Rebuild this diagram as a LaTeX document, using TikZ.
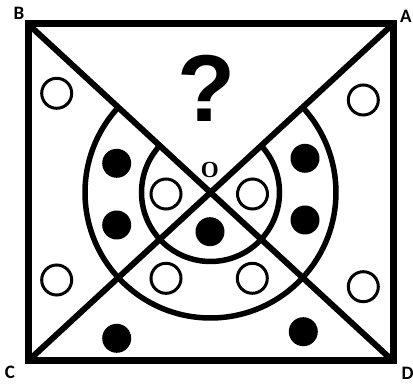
\documentclass[tikz,border=0pt]{standalone}
\usepackage{fontspec}
\setmainfont{Liberation Sans}
\newfontfamily\lblfont{Carlito}
\newfontfamily\ofont{Liberation Serif}
\begin{document}
\begin{tikzpicture}[x=1pt,y=-1pt,
  hollow/.style={circle,draw=black,line width=3pt,minimum size=30pt,inner sep=0pt},
  dot/.style={circle,fill=black,minimum size=29pt,inner sep=0pt},
  corner/.style={inner sep=0pt,font=\lblfont\bfseries\fontsize{19}{19}\selectfont},
  frame/.style={line width=7pt,line join=miter},
  diag/.style={line width=6pt},
  ring/.style={line width=5.5pt}]
\useasboundingbox (0,0) rectangle (413,387);
\coordinate (B) at (28,24);
\coordinate (A) at (393,24);
\coordinate (D) at (393,361);
\coordinate (C) at (28,361);
\coordinate (O) at (210.5,192.5);
% arcs
\draw[ring] (O) ++(222.7:125.5) arc[start angle=222.7,end angle=-42.7,radius=125.5];
\draw[ring] (O) ++(222.7:69) arc[start angle=222.7,end angle=-42.7,radius=69];
% diagonals and frame
\draw[diag] (B) -- (D);
\draw[diag] (A) -- (C);
\draw[frame] (B) -- (A) -- (D) -- (C) -- cycle;
% labels
\node[corner] (lB) at (19,13) {B};
\node[corner] (lA) at (406,16) {A};
\node[corner] (lC) at (10,372.5) {C};
\node[corner] (lD) at (407.5,373) {D};
\node[inner sep=0pt,font=\ofont\bfseries\fontsize{23}{23}\selectfont] (lO) at (209.7,170) {O};
\node[inner sep=0pt,font=\bfseries\fontsize{95}{95}\selectfont] (q) at (207,88) {?};
% hollow circles
\node[hollow] (h1) at (56.7,93.3) {};
\node[hollow] (h2) at (363.3,100) {};
\node[hollow] (h3) at (56.7,280) {};
\node[hollow] (h4) at (363.3,286.7) {};
\node[hollow] (h5) at (166,194) {};
\node[hollow] (h6) at (252.5,194) {};
\node[hollow] (h7) at (166,278.3) {};
\node[hollow] (h8) at (252.3,278.3) {};
% filled dots
\node[dot] (f1) at (116.7,163.3) {};
\node[dot] (f2) at (116.7,225) {};
\node[dot] (f3) at (305,158.3) {};
\node[dot] (f4) at (305,220) {};
\node[dot] (f5) at (210,231.7) {};
\node[dot] (f6) at (116.7,338.3) {};
\node[dot] (f7) at (303.3,331.7) {};
\end{tikzpicture}
\end{document}
